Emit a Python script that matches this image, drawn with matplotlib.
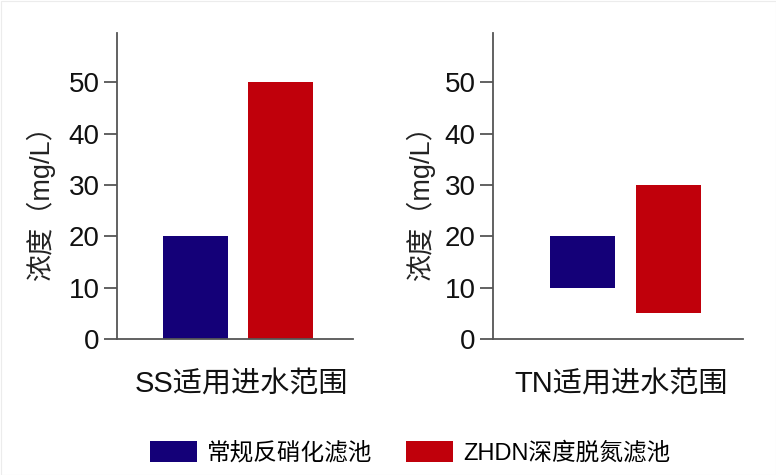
import matplotlib
matplotlib.use("Agg")
import matplotlib.pyplot as plt
from matplotlib.patches import Patch, Rectangle

plt.rcParams['font.family'] = ['Liberation Sans', 'Noto Sans CJK SC', 'DejaVu Sans']

# Data
panels = ['SS适用进水范围', 'TN适用进水范围']
series_names = ['常规反硝化滤池', 'ZHDN深度脱氮滤池']
conv_low = [0, 10]
conv_high = [20, 20]
zhdn_low = [0, 5]
zhdn_high = [50, 30]
yticks = [0, 10, 20, 30, 40, 50]
ylabel = '浓度（mg/L）'

blue = '#140078'
red = '#C0000B'
spine_c = '#555555'

W, H = 776, 475
fig = plt.figure(figsize=(W / 100, H / 100), dpi=100)

# axes boxes in pixels: (left, right, top, bottom)
boxes = [(117, 353, 33, 339), (493, 743, 33, 339)]
xlims = [(-0.924, 1.853), (-1.04, 1.866)]
ylabel_x = [-0.326, -0.292]
xlabel_pos = [(241, 385), (621, 385)]

for i, (l, r, t, b) in enumerate(boxes):
    ax = fig.add_axes([l / W, 1 - b / H, (r - l) / W, (b - t) / H])
    lows = [conv_low[i], zhdn_low[i]]
    highs = [conv_high[i], zhdn_high[i]]
    heights = [h - lo for h, lo in zip(highs, lows)]
    ax.bar([0, 1], heights, bottom=lows, width=0.765,
           color=[blue, red], edgecolor='none')
    ax.set_xlim(*xlims[i])
    ax.set_ylim(0, 59.6)
    ax.set_yticks(yticks)
    ax.set_xticks([])
    for s in ['top', 'right']:
        ax.spines[s].set_visible(False)
    for s in ['left', 'bottom']:
        ax.spines[s].set_color(spine_c)
        ax.spines[s].set_linewidth(1.3)
    ax.tick_params(axis='y', direction='out', length=9.5, width=1.3,
                   color=spine_c, labelsize=20, pad=3, labelcolor='#111111')
    ax.set_ylabel(ylabel, fontsize=19.5, va='center', color='#222222')
    ax.yaxis.set_label_coords(ylabel_x[i], 0.466)
    fig.text(xlabel_pos[i][0] / W, 1 - xlabel_pos[i][1] / H, panels[i],
             fontsize=21, ha='center', va='center', color='#111111')

handles = [Patch(facecolor=blue, edgecolor='none'),
           Patch(facecolor=red, edgecolor='none')]
fig.legend(handles, series_names, loc='center', bbox_to_anchor=(410 / W, 1 - 453 / H),
           ncol=2, frameon=False, fontsize=17, handlelength=2.0, handleheight=1.0,
           handletextpad=0.42, columnspacing=1.4, borderpad=0, borderaxespad=0)

# faint outer frame
fig.patches.append(Rectangle((0.5 / W, 0.5 / H), 1 - 1.0 / W, 1 - 1.0 / H,
                             transform=fig.transFigure, fill=False,
                             edgecolor='#ececec', linewidth=0.8))

fig.savefig('out.png', dpi=100)
